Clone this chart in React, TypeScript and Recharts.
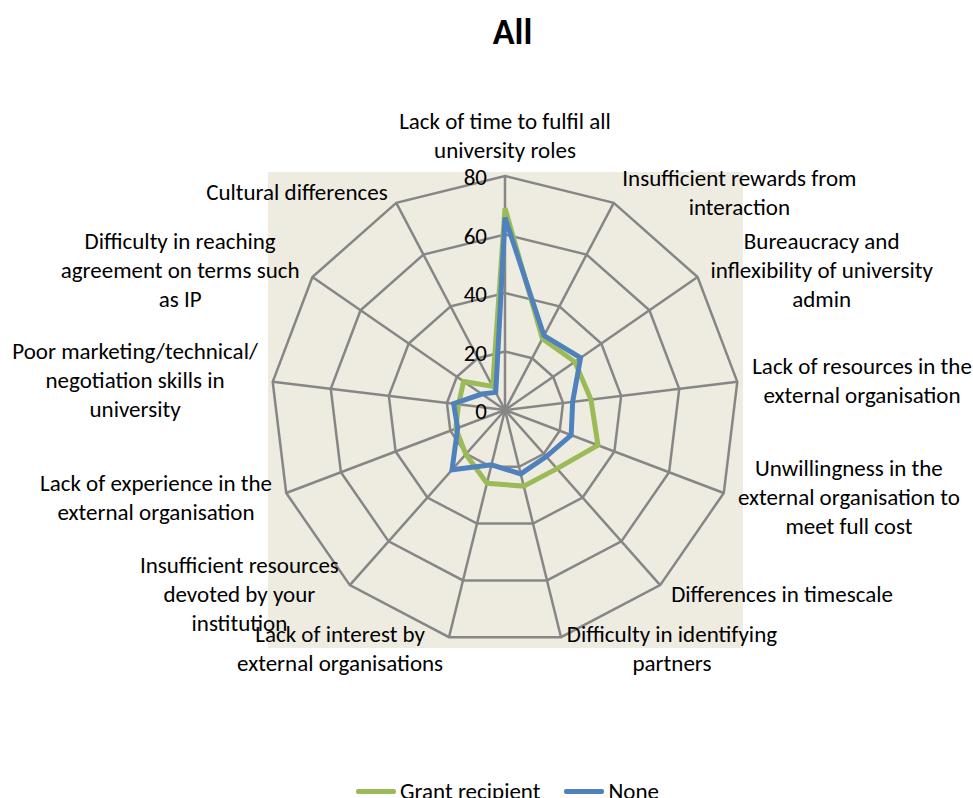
import React from 'react';
import {
  RadarChart,
  Radar,
  PolarGrid,
  PolarAngleAxis,
  PolarRadiusAxis,
  Legend,
} from 'recharts';

// category labels, already broken into the lines used in the chart
const categoryLines: string[][] = [
  ['Lack of time to fulfil all', 'university roles'],
  ['Insufficient rewards from', 'interaction'],
  ['Bureaucracy and', 'inflexibility of university', 'admin'],
  ['Lack of resources in the', 'external organisation'],
  ['Unwillingness in the', 'external organisation to', 'meet full cost'],
  ['Differences in timescale'],
  ['Difficulty in identifying', 'partners'],
  ['Lack of interest by', 'external organisations'],
  ['Insufficient resources', 'devoted by your', 'institution'],
  ['Lack of experience in the', 'external organisation'],
  ['Poor marketing/technical/', 'negotiation skills in', 'university'],
  ['Difficulty in reaching', 'agreement on terms such', 'as IP'],
  ['Cultural differences'],
];

const grantRecipient = [69, 27.5, 29, 29.6, 34, 26.8, 26.8, 25.8, 20.2, 18, 16, 17.2, 9.1];
const noneGroup = [65.8, 28.7, 31.4, 23.3, 24.2, 21.3, 22.5, 19.3, 27.3, 17.3, 17.7, 9.6, 6.8];

const seriesNames = ['Grant recipient', 'None'];
const radiusTicks = [0, 20, 40, 60, 80];

const data = categoryLines.map((lines, i) => ({
  category: lines.join(' '),
  grant: grantRecipient[i],
  none: noneGroup[i],
}));

const FONT = 'Carlito, Lato, "Liberation Sans", sans-serif';
const LABEL_SIZE = 23;
const LINE_H = 29;
const CX = 505;
const CY = 410;
const R = 234;
const GREEN = '#9BBB59';
const BLUE = '#4F81BD';
const GRID = '#868686';

let ctx: CanvasRenderingContext2D | null = null;
const measure = (s: string) => {
  if (!ctx) ctx = document.createElement('canvas').getContext('2d');
  if (!ctx) return s.length * 10;
  ctx.font = `${LABEL_SIZE}px ${FONT}`;
  return ctx.measureText(s).width;
};

const AngleTick = (props: any) => {
  const { payload, index } = props;
  const lines = categoryLines[index] || [String(payload.value)];
  const a = (payload.coordinate * Math.PI) / 180;
  const cosA = Math.cos(a);
  const sinA = Math.sin(a);
  const vx = CX + R * cosA;
  const vy = CY - R * sinA;
  const w = Math.max(...lines.map(measure));
  const h = lines.length * LINE_H;
  let centerX: number;
  let centerY: number;
  if (Math.abs(cosA) < 0.05) {
    centerX = vx;
    centerY = vy - 12 - h / 2;
  } else {
    const gap = 12 * Math.abs(cosA) + 3;
    centerX = cosA > 0 ? vx + gap + w / 2 : vx - gap - w / 2;
    centerY = vy - 12 * sinA;
  }
  const top = centerY - h / 2 + LINE_H / 2;
  return (
    <text
      textAnchor="middle"
      fontFamily={FONT}
      fontSize={LABEL_SIZE}
      fill="#000"
      dominantBaseline="central"
    >
      {lines.map((l, i) => (
        <tspan key={i} x={centerX} y={top + i * LINE_H}>
          {l}
        </tspan>
      ))}
    </text>
  );
};

const RadiusTick = (props: any) => {
  const { x, y, payload } = props;
  return (
    <text
      x={x - 18}
      y={y + 1}
      textAnchor="end"
      dominantBaseline="central"
      fontFamily={FONT}
      fontSize={LABEL_SIZE}
      fill="#000"
    >
      {payload.value}
    </text>
  );
};

const LegendContent = () => {
  const colors = [GREEN, BLUE];
  return (
    <div style={{ display: 'flex', justifyContent: 'center', fontFamily: FONT, fontSize: 23, lineHeight: '28px', paddingLeft: 42 }}>
      {seriesNames.map((n, i) => (
        <div key={n} style={{ display: 'flex', alignItems: 'center', marginRight: i === 0 ? 24 : 0 }}>
          <div style={{ width: 40, height: 5, background: colors[i], borderRadius: 2, marginRight: 4 }} />
          <span>{n}</span>
        </div>
      ))}
    </div>
  );
};

const App = () => {
  return (
    <div style={{ position: 'absolute', left: 0, top: 0, width: 973, height: 798, background: '#fff', overflow: 'hidden' }}>
      <div
        style={{
          position: 'absolute',
          left: 268,
          top: 172,
          width: 475,
          height: 476,
          background: '#EEECE1',
        }}
      />
      <div
        style={{
          position: 'absolute',
          top: 10,
          left: 26,
          width: 973,
          textAlign: 'center',
          fontFamily: FONT,
          fontWeight: 'bold',
          fontSize: 36,
          lineHeight: '44px',
        }}
      >
        All
      </div>
      <div style={{ position: 'absolute', left: 0, top: 0 }}>
        <RadarChart
          width={973}
          height={798}
          data={data}
          cx={CX}
          cy={CY}
          outerRadius={R}
          startAngle={90}
          endAngle={-270}
          margin={{ top: 0, right: 0, bottom: 0, left: 0 }}
        >
          <PolarGrid gridType="polygon" stroke={GRID} strokeWidth={2.5} strokeOpacity={1} />
          <PolarAngleAxis dataKey="category" tick={<AngleTick />} tickLine={false} axisLine={false} />
          <PolarRadiusAxis
            angle={90}
            domain={[0, 80]}
            ticks={radiusTicks}
            tickCount={5}
            tick={<RadiusTick />}
            axisLine={false}
            tickLine={false}
          />
          <Radar
            name={seriesNames[0]}
            dataKey="grant"
            stroke={GREEN}
            strokeWidth={5}
            fill="none"
            fillOpacity={0}
            dot={false}
            isAnimationActive={false}
          />
          <Radar
            name={seriesNames[1]}
            dataKey="none"
            stroke={BLUE}
            strokeWidth={5}
            fill="none"
            fillOpacity={0}
            dot={false}
            isAnimationActive={false}
          />
          <Legend
            content={<LegendContent />}
            wrapperStyle={{ position: 'absolute', top: 777, left: 0, width: 973 }}
          />
        </RadarChart>
      </div>
    </div>
  );
};

export default App;
